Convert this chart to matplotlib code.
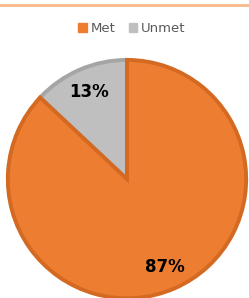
import matplotlib.pyplot as plt
from matplotlib.lines import Line2D

# data
labels = ['Met', 'Unmet']
values = [87, 13]
colors = ['#ED7D31', '#BFBFBF']
edge_colors = ['#D46A22', '#A5A5A5']

fig = plt.figure(figsize=(2.49, 2.98), dpi=100)

# thin accent line at the top
fig.add_artist(Line2D([0, 1], [0.983, 0.983], color='#F8B887', linewidth=2,
                      transform=fig.transFigure))

ax = fig.add_axes([0.024, -0.007, 0.972, 0.812])
wedges, texts, autotexts = ax.pie(values, colors=colors, startangle=90, counterclock=False,
                                  autopct='%d%%', pctdistance=0.8, radius=0.985,
                                  wedgeprops={'linewidth': 2.8},
                                  textprops={'fontsize': 12, 'fontweight': 'bold', 'color': 'black'})
for w, ec in zip(wedges, edge_colors):
    w.set_edgecolor(ec)
# orange border sits over the grey slice
wedges[0].set_zorder(3)
for t in autotexts:
    t.set_zorder(4)
ax.set_xlim(-1, 1)
ax.set_ylim(-1, 1)

# legend
handles = [plt.Rectangle((0, 0), 1, 1, color=c) for c in colors]
fig.legend(handles, labels, loc='center', bbox_to_anchor=(0.53, 0.903), ncol=2, frameon=False,
           fontsize=9.5, handlelength=0.65, handleheight=0.65, handletextpad=0.3, columnspacing=1.0,
           labelcolor='#595959')

fig.savefig('out.png', dpi=100)
